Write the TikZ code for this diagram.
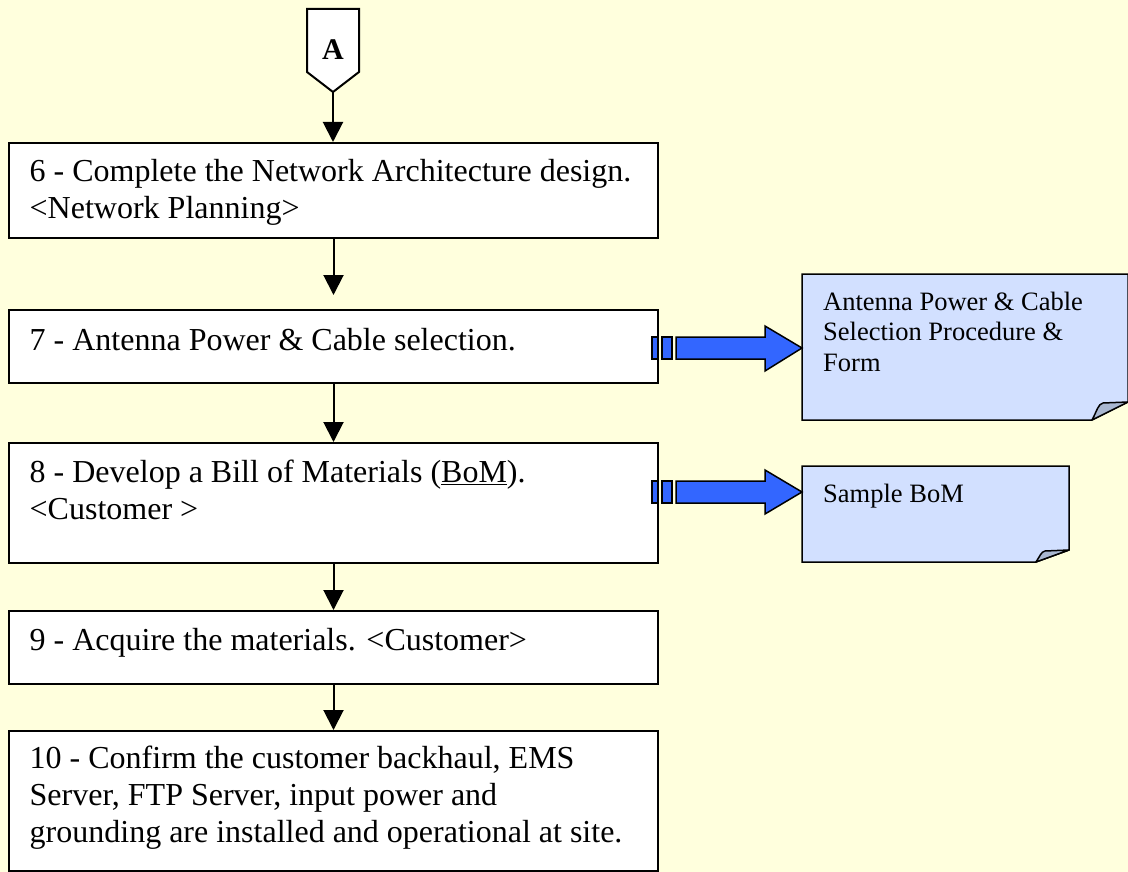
\documentclass[tikz,border=0pt]{standalone}
\usepackage{fontspec}
\setmainfont{Liberation Serif}
\usetikzlibrary{arrows.meta,calc}
\definecolor{bg}{HTML}{FFFFDD}
\definecolor{docfill}{HTML}{D2E0FF}
\definecolor{foldfill}{HTML}{A9B7D0}
\definecolor{blockblue}{HTML}{3366FF}
\begin{document}
\begin{tikzpicture}[x=1pt,y=-1pt,
  stepbox/.style={draw, line width=2pt, fill=white, inner sep=0pt, anchor=north west, minimum width=649pt},
  steptext/.style={inner sep=0pt, anchor=base west, font=\fontsize{32}{37}\selectfont},
  doctext/.style={inner sep=0pt, anchor=base west, font=\fontsize{26.5}{30.5}\selectfont},
  flow/.style={line width=2pt, -{Triangle[length=20pt,width=20pt]}},
  blockarrow/.style={fill=blockblue, draw=black, line width=1.5pt, line join=miter},
  docshape/.style={fill=docfill, draw=black, line width=1.5pt, line join=miter},
  foldshape/.style={fill=foldfill, draw=black, line width=1.5pt, line join=round}]
\fill[bg] (0,0) rectangle (1128,872);
\useasboundingbox (0,0) rectangle (1128,872);

% off-page connector A
\draw[line width=2pt, fill=white, line join=miter] (307,9) -- (359,9) -- (359,72) -- (333,92) -- (307,72) -- cycle;
\node[font=\bfseries\fontsize{30}{36}\selectfont, inner sep=0pt, anchor=base] (A) at (333,60) {A};
\coordinate (Atip) at (333,92);

% step boxes
\node[stepbox, minimum height=95pt]  (b6)  at (8,142) {};
\node[stepbox, minimum height=73pt]  (b7)  at (8,309) {};
\node[stepbox, minimum height=120pt] (b8)  at (8,442) {};
\node[stepbox, minimum height=73pt]  (b9)  at (8,610) {};
\node[stepbox, minimum height=140pt] (b10) at (8,730) {};

\node[steptext] (t6) at (29.5,182) {\vtop{\hbox{6 - Complete the Network Architecture design.}\hbox{<Network Planning>}}};
\node[steptext] (t7) at (29.5,350) {7 - Antenna Power \& Cable selection.};
\node[steptext] (t8) at (29.5,482) {\vtop{\hbox{8 - Develop a Bill of Materials (\underline{BoM}).}\hbox{<Customer >}}};
\node[steptext] (t9) at (29.5,650) {9 - Acquire the materials. <Customer>};
\node[steptext] (t10) at (29.5,768) {\vtop{\hbox{10 - Confirm the customer backhaul, EMS}\hbox{Server, FTP Server, input power and}\hbox{grounding are installed and operational at site.}}};

% flow connectors
\draw[flow] (Atip) -- (Atip |- b6.north);
\draw[flow, shorten >=14pt] (b6.south) -- (b7.north);
\draw[flow] (b7.south) -- (b8.north);
\draw[flow] (b8.south) -- (b9.north);
\draw[flow] (b9.south) -- (b10.north);

% documents
\draw[docshape] (802,274) -- (1128,274) -- (1128,402) -- (1092,420) -- (802,420) -- cycle;
\draw[foldshape] (1092,420) .. controls (1097,411) and (1098,404) .. (1103,403) -- (1128,402) -- cycle;
\node[doctext] (d1) at (823,310) {\vtop{\hbox{Antenna Power \& Cable}\hbox{Selection Procedure \&}\hbox{Form}}};

\draw[docshape] (802,466) -- (1069,466) -- (1069,550) -- (1036,562) -- (802,562) -- cycle;
\draw[foldshape] (1036,562) .. controls (1040,556) and (1041,552) .. (1045,551) -- (1069,550) -- cycle;
\node[doctext] (d2) at (823,502) {Sample BoM};

% block arrows
\draw[blockarrow] (652,337) rectangle (658,359);
\draw[blockarrow] (662,337) rectangle (672,359);
\draw[blockarrow] (676,337) -- (765,337) -- (765,326) -- (802,348) -- (765,371) -- (765,359) -- (676,359) -- cycle;

\draw[blockarrow] (652,481) rectangle (658,503);
\draw[blockarrow] (662,481) rectangle (672,503);
\draw[blockarrow] (676,481) -- (765,481) -- (765,470) -- (802,492) -- (765,514) -- (765,503) -- (676,503) -- cycle;
\end{tikzpicture}
\end{document}
